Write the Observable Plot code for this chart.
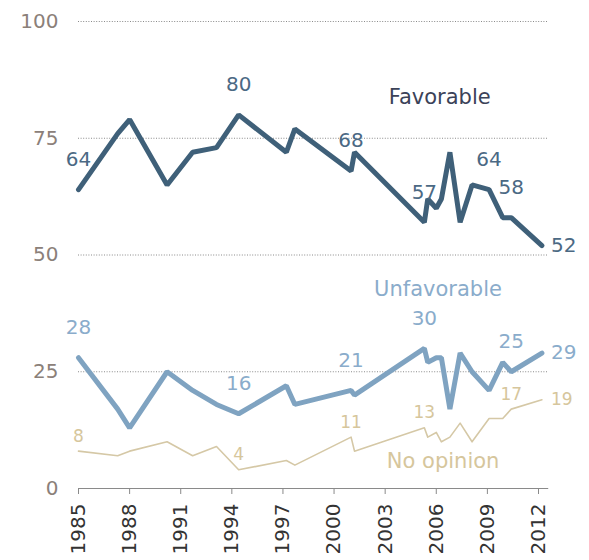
<!DOCTYPE html>
<html>
<head>
<meta charset="utf-8">
<script src="https://cdn.jsdelivr.net/npm/d3@7"></script>
<script src="https://cdn.jsdelivr.net/npm/@observablehq/plot@0.6"></script>
<style>
  html, body { margin: 0; padding: 0; background: #fff; }
  #chart svg { display: block; font-family: "DejaVu Sans", Verdana, sans-serif; }
</style>
</head>
<body>
<div id="chart"></div>
<script>
// Survey dates (decimal years)
const dates = [1985.0, 1987.3, 1988.0, 1990.2, 1991.7, 1993.1, 1994.4, 1997.2, 1997.7, 2001.0, 2001.2,
               2005.3, 2005.5, 2006.0, 2006.3, 2006.8, 2007.4, 2008.1, 2009.1, 2009.9, 2010.4, 2012.2];
const favorable   = [64, 76, 79, 65, 72, 73, 80, 72, 77, 68, 72, 57, 62, 60, 62, 72, 57, 65, 64, 58, 58, 52];
const unfavorable = [28, 17, 13, 25, 21, 18, 16, 22, 18, 21, 20, 30, 27, 28, 28, 17, 29, 25, 21, 27, 25, 29];
const noOpinion   = [ 8,  7,  8, 10,  7,  9,  4,  6,  5, 11,  8, 13, 11, 12, 10, 11, 14, 10, 15, 15, 17, 19];

const xTicks = [1985, 1988, 1991, 1994, 1997, 2000, 2003, 2006, 2009, 2012];
const yTicks = [0, 25, 50, 75, 100];
const gridValues = [25, 50, 75, 100];

// indices of labelled points
const favLabelIdx = [0, 6, 9, 11, 18, 20];
const unfLabelIdx = [0, 6, 9, 11, 20];
const noLabelIdx  = [0, 6, 9, 11, 20];
const lastIdx = dates.length - 1;

// series names
const seriesNames = ["Favorable", "Unfavorable", "No opinion"];
const seriesNameAt = [[2006.2, 83.7], [2006.1, 42.6], [2006.4, 5.8]];

const C_FAV = "#3f6079", C_UNF = "#7fa3c1", C_NO = "#d5c8a6";
const C_FAV_T = "#4b6984", C_UNF_T = "#8aaccb", C_NO_T = "#d6c69c";

const rows = (vals) => dates.map((d, i) => ({x: d, y: vals[i]}));
const pick = (vals, idx) => idx.map(i => ({x: dates[i], y: vals[i], t: String(vals[i])}));

const chart = Plot.plot({
  width: 589,
  height: 560,
  marginLeft: 78,
  marginRight: 51,
  marginTop: 21,
  marginBottom: 72,
  style: {fontFamily: "DejaVu Sans, Verdana, sans-serif", background: "#fff"},
  x: {domain: [1985, 2012], clamp: false},
  y: {domain: [0, 100], axis: null},
  marks: [
    Plot.ruleY(gridValues, {x1: 1985, x2: 2012.6, stroke: "#8a8a8a", strokeDasharray: "1,1.6", strokeWidth: 1}),
    Plot.ruleY([0], {x1: 1985, x2: 2012.6, stroke: "#8a8a8a", strokeWidth: 1.2}),
    // y tick labels
    Plot.text(yTicks, {x: 1985, y: d => d, text: d => String(d), dx: -20, textAnchor: "end", fontSize: 20, fill: "#8b8079"}),
    Plot.axisX({ticks: xTicks, tickFormat: d => String(d), tickSize: 6, stroke: "#8a8a8a",
                tickRotate: -90, tickPadding: 9, fontSize: 20, fill: "#333", label: null}),
    Plot.line(rows(noOpinion), {x: "x", y: "y", stroke: C_NO, strokeWidth: 1.6}),
    Plot.line(rows(unfavorable), {x: "x", y: "y", stroke: C_UNF, strokeWidth: 5, strokeLinejoin: "miter"}),
    Plot.line(rows(favorable), {x: "x", y: "y", stroke: C_FAV, strokeWidth: 5, strokeLinejoin: "miter"}),
    // data labels
    Plot.text(pick(favorable, favLabelIdx), {x: "x", y: "y", text: "t", dy: -30, fontSize: 20, fill: C_FAV_T}),
    Plot.text(pick(favorable, [lastIdx]), {x: "x", y: "y", text: "t", dx: 9, textAnchor: "start", fontSize: 20, fill: C_FAV_T}),
    Plot.text(pick(unfavorable, unfLabelIdx), {x: "x", y: "y", text: "t", dy: -30, fontSize: 20, fill: C_UNF_T}),
    Plot.text(pick(unfavorable, [lastIdx]), {x: "x", y: "y", text: "t", dx: 9, textAnchor: "start", fontSize: 20, fill: C_UNF_T}),
    Plot.text(pick(noOpinion, noLabelIdx), {x: "x", y: "y", text: "t", dy: -15, fontSize: 17, fill: C_NO_T}),
    Plot.text(pick(noOpinion, [lastIdx]), {x: "x", y: "y", text: "t", dx: 9, textAnchor: "start", fontSize: 17, fill: C_NO_T}),
    // series names
    Plot.text(seriesNames.map((n, i) => ({n, x: seriesNameAt[i][0], y: seriesNameAt[i][1]})),
      {x: "x", y: "y", text: "n", fontSize: 21, fill: (d) => d.n === "Favorable" ? "#3b4258" : d.n === "Unfavorable" ? C_UNF_T : C_NO_T})
  ]
});
document.getElementById("chart").appendChild(chart);
</script>
</body>
</html>
